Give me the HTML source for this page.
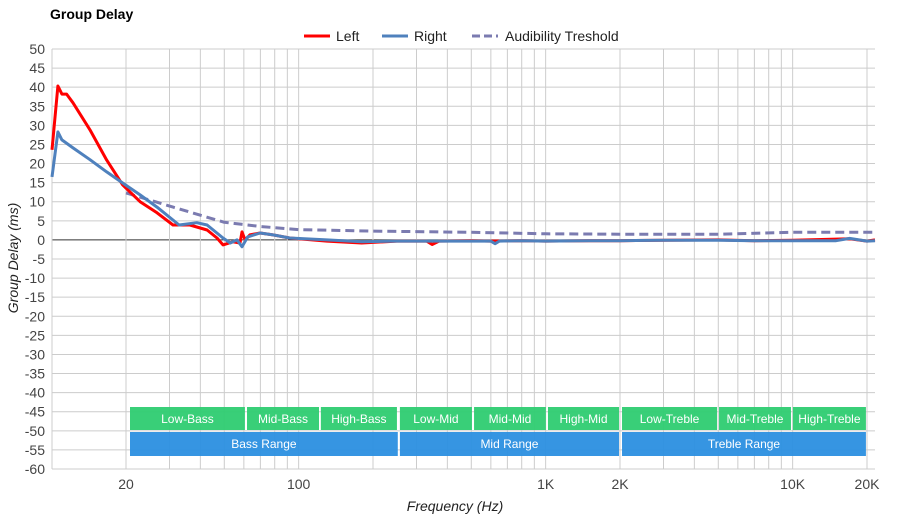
<!DOCTYPE html>
<html><head><meta charset="utf-8">
<style>
body{margin:0;background:#fff;font-family:"Liberation Sans",Arial,sans-serif;}
svg{display:block}
text{font-family:"Liberation Sans",Arial,sans-serif;}
</style></head>
<body>
<svg id="chart" width="900" height="520" viewBox="0 0 900 520" xmlns="http://www.w3.org/2000/svg">
<text x="50" y="19" font-size="14" font-weight="bold" fill="#000">Group Delay</text>
<g>
<g><line x1="304" y1="36" x2="330" y2="36" stroke="#f00" stroke-width="3"/><text x="336" y="41" font-size="14" fill="#222">Left</text></g>
<g><line x1="382" y1="36" x2="408" y2="36" stroke="#4f81bd" stroke-width="3"/><text x="414" y="41" font-size="14" fill="#222">Right</text></g>
<g><line x1="472" y1="36" x2="498" y2="36" stroke="#7b7bb0" stroke-width="3" stroke-dasharray="8,4"/><text x="505" y="41" font-size="14" fill="#222">Audibility Treshold</text></g>
</g>
<g id="grid"></g>
<g id="bands"></g>
<g id="series"></g>
<g id="axes"></g>
<text x="455" y="511" font-size="14" font-style="italic" fill="#222" text-anchor="middle">Frequency (Hz)</text>
<text transform="translate(18,258) rotate(-90)" font-size="14" font-style="italic" fill="#222" text-anchor="middle">Group Delay (ms)</text>
</svg>
<script>
const leftFreq=[10,10.6,11,11.5,12.2,14.3,16.7,19.4,22.8,26.7,31,36.3,42.6,46.7,49.4,54.2,57.9,59,60.7,63.5,69.8,78.7,92,130,180,250,330,347,370,500,600,800,1000,1500,2000,3000,5000,7000,10000,15000,17000,20000,21600];
const leftVal=[23.6,40.3,38.2,38.2,35.9,28.8,20.9,14.4,10,7.1,3.9,3.9,2.6,0.5,-1.3,-0.5,-0.8,2.1,0,1.3,1.8,1.3,0.5,-0.3,-0.8,-0.3,-0.3,-1.2,-0.3,-0.2,-0.3,-0.2,-0.3,-0.2,-0.2,-0.1,0,-0.2,-0.1,0.2,0.3,-0.3,0];
const rightFreq=[10,10.6,11,12.2,14.3,16.7,19.4,22.8,26.7,32.8,38.7,42.6,49.4,52.9,56.3,59,62.2,69.8,78.7,92,130,180,250,350,500,600,624,650,800,1000,1500,2000,3000,5000,7000,10000,15000,17000,20000,21600];
const rightVal=[16.5,28.3,26.2,24.1,21,17.8,14.9,11.8,8.6,3.9,4.5,3.9,0.5,-0.8,0,-1.8,0.8,1.8,1.3,0.5,0,-0.5,-0.3,-0.3,-0.3,-0.3,-1,-0.3,-0.2,-0.3,-0.2,-0.2,-0.1,-0.1,-0.2,-0.2,-0.2,0.4,-0.3,-0.2];
const thrFreq=[20,31,50,70,100,200,500,1000,2000,5000,10000,20000,21600];
const thrVal=[12.3,8.6,4.6,3.5,2.7,2.3,2,1.6,1.5,1.5,2,2,2];
const yTicks=[50,45,40,35,30,25,20,15,10,5,0,-5,-10,-15,-20,-25,-30,-35,-40,-45,-50,-55,-60];
const xTickLabels=["20","100","1K","2K","10K","20K"];
const xTickVals=[20,100,1000,2000,10000,20000];
const bandNames=["Low-Bass","Mid-Bass","High-Bass","Low-Mid","Mid-Mid","High-Mid","Low-Treble","Mid-Treble","High-Treble"];
const bandEdges=[[20.76,60.6],[61.8,120.9],[123,250],[257,503],[513,1002],[1022,1982],[2038,4943],[5035,9844],[10024,19800]];
const rangeNames=["Bass Range","Mid Range","Treble Range"];
const rangeEdges=[[20.76,252],[257,1982],[2038,19800]];

const NS="http://www.w3.org/2000/svg";
const X0=52,X1=875,Y0=49,Y1=469;
const fx=f=>126+247*Math.log10(f/20);
const fy=v=>Y0+(50-v)*(Y1-Y0)/110;
function mk(tag,attrs,parent){const e=document.createElementNS(NS,tag);for(const k in attrs)e.setAttribute(k,attrs[k]);parent.appendChild(e);return e;}
const grid=document.getElementById('grid'),axes=document.getElementById('axes'),series=document.getElementById('series'),bands=document.getElementById('bands');
yTicks.forEach(v=>{
 const l=mk('line',{x1:X0,x2:X1,y1:fy(v),y2:fy(v),stroke:v===0?'#333':'#ccc','stroke-width':1},grid);
 
 
 const t=mk('text',{x:45,y:fy(v)+5,'font-size':14,fill:'#444','text-anchor':'end'},axes);
 t.textContent=v;
 
 
});
for(let d=10;d<=10000;d*=10){for(let m=(d===10?2:1);m<=9;m++){const f=d*m;const x=fx(f);if(x<X0||x>X1)continue;
 const l=mk('line',{x1:x,x2:x,y1:Y0,y2:Y1,stroke:'#ccc','stroke-width':1},grid);
 
 }}
mk('line',{x1:fx(20000),x2:fx(20000),y1:Y0,y2:Y1,stroke:'#ccc'},grid);
mk('line',{x1:X0,x2:X0,y1:Y0,y2:Y1,stroke:'#ccc'},grid);
mk('line',{x1:X0,x2:X1,y1:Y1,y2:Y1,stroke:'#ccc'},grid);
xTickVals.forEach((f,i)=>{const t=mk('text',{x:fx(f),y:489,'font-size':14,fill:'#444','text-anchor':'middle'},axes);
 t.textContent=xTickLabels[i];
 
 });
bandNames.forEach((n,i)=>{const a=fx(bandEdges[i][0]),b=fx(bandEdges[i][1]);
 const g=mk('g',{},bands);
 
 
 mk('rect',{x:a,y:407,width:b-a,height:23,fill:'#2ecc71','fill-opacity':0.95},g);
 const t=mk('text',{x:(a+b)/2,y:423,'font-size':12,fill:'#fff','text-anchor':'middle'},g);t.textContent=n;});
rangeNames.forEach((n,i)=>{const a=fx(rangeEdges[i][0]),b=fx(rangeEdges[i][1]);
 const g=mk('g',{},bands);
 
 
 mk('rect',{x:a,y:432,width:b-a,height:24,fill:'#2b8fe0','fill-opacity':0.95},g);
 const t=mk('text',{x:(a+b)/2,y:448,'font-size':12,fill:'#fff','text-anchor':'middle'},g);t.textContent=n;});
function line(fs,vs,attrs,name){const d=fs.map((f,i)=>(i?'L':'M')+Math.max(X0,Math.min(X1,fx(f))).toFixed(1)+','+fy(vs[i]).toFixed(1)).join('');
 const p=mk('path',Object.assign({d,fill:'none','stroke-linejoin':'round'},attrs),series);
 
 }
line(thrFreq,thrVal,{stroke:'#7b7bb0','stroke-width':3,'stroke-dasharray':'9,5'},'threshold-line');
line(leftFreq,leftVal,{stroke:'#f00','stroke-width':3},'left-line');
line(rightFreq,rightVal,{stroke:'#4f81bd','stroke-width':3},'right-line');
</script>
</body></html>
